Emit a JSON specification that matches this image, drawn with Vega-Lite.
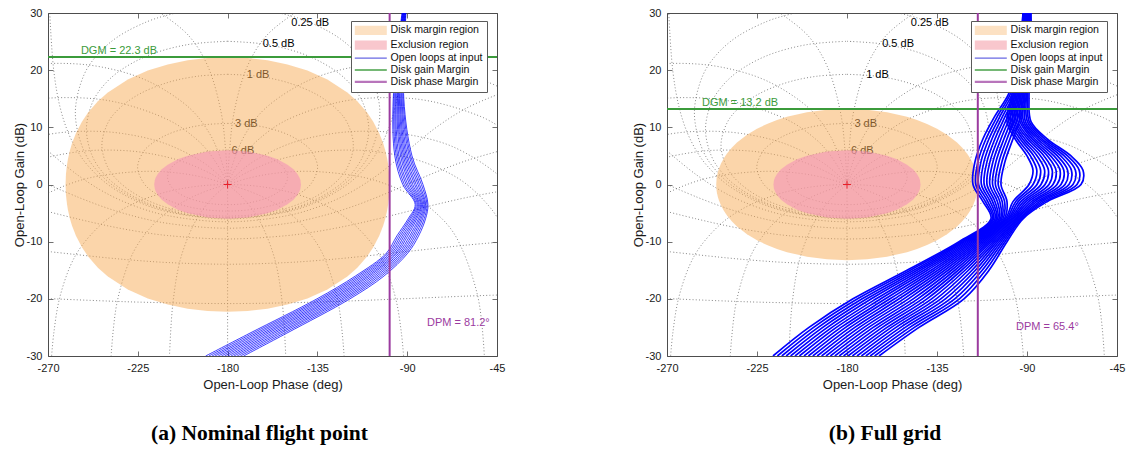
{
"$schema":"https://vega.github.io/schema/vega-lite/v6.json",
"background":"white",
"padding":{"left":12,"top":6,"right":5,"bottom":5},
"spacing":170,
"bounds":"flush",
"config":{
 "view":{"stroke":"#4d4d4d","strokeWidth":1},
 "axis":{"domain":false,"grid":false,"ticks":true,"tickSize":-5,"tickColor":"#4d4d4d","tickWidth":0.8,"labelFont":"Liberation Sans","labelFontSize":11,"labelColor":"#1a1a1a","titleFont":"Liberation Sans","titleFontSize":13,"titleFontWeight":"normal","titleColor":"#1a1a1a","labelFlush":false,"labelOverlap":false,"labelBound":false},
 "axisBottom":{"labelPadding":11,"titlePadding":5},
 "axisLeft":{"labelPadding":11,"titlePadding":0},
 "legend":{"orient":"none","title":null,"fillColor":"#ffffff","strokeColor":"#5a5a5a","padding":4,"rowPadding":0.9,"labelFont":"Liberation Sans","labelFontSize":10.6,"labelColor":"#111111","symbolSize":64,"symbolStrokeWidth":1.2,"symbolOffset":10.5,"labelOffset":14.5}
},
"datasets":{
"grid":[
{"g":1,"i":0,"x":-180,"y":6.04},{"g":1,"i":1,"x":-170,"y":5.77},{"g":1,"i":2,"x":-160,"y":4.83},{"g":1,"i":3,"x":-155,"y":3.92},{"g":1,"i":4,"x":-152,"y":3.01},{"g":1,"i":5,"x":-149.9,"y":1.26},{"g":1,"i":6,"x":-152,"y":-0.49},{"g":1,"i":7,"x":-155,"y":-1.41},{"g":1,"i":8,"x":-160,"y":-2.32},{"g":1,"i":9,"x":-170,"y":-3.26},{"g":1,"i":10,"x":-180,"y":-3.53},{"g":1,"i":11,"x":-190,"y":-3.26},{"g":1,"i":12,"x":-200,"y":-2.32},{"g":1,"i":13,"x":-205,"y":-1.41},{"g":1,"i":14,"x":-208,"y":-0.49},{"g":1,"i":15,"x":-210.1,"y":1.26},{"g":1,"i":16,"x":-208,"y":3.01},{"g":1,"i":17,"x":-205,"y":3.92},{"g":1,"i":18,"x":-200,"y":4.83},{"g":1,"i":19,"x":-190,"y":5.77},{"g":1,"i":20,"x":-180,"y":6.04},
{"g":2,"i":0,"x":-180,"y":10.69},{"g":2,"i":1,"x":-170,"y":10.5},{"g":2,"i":2,"x":-160,"y":9.9},{"g":2,"i":3,"x":-150,"y":8.76},{"g":2,"i":4,"x":-142,"y":7.16},{"g":2,"i":5,"x":-138,"y":5.82},{"g":2,"i":6,"x":-134.9,"y":3.02},{"g":2,"i":7,"x":-138,"y":0.22},{"g":2,"i":8,"x":-142,"y":-1.12},{"g":2,"i":9,"x":-150,"y":-2.72},{"g":2,"i":10,"x":-160,"y":-3.86},{"g":2,"i":11,"x":-170,"y":-4.46},{"g":2,"i":12,"x":-180,"y":-4.65},{"g":2,"i":13,"x":-190,"y":-4.46},{"g":2,"i":14,"x":-200,"y":-3.86},{"g":2,"i":15,"x":-210,"y":-2.72},{"g":2,"i":16,"x":-218,"y":-1.12},{"g":2,"i":17,"x":-222,"y":0.22},{"g":2,"i":18,"x":-225.1,"y":3.02},{"g":2,"i":19,"x":-222,"y":5.82},{"g":2,"i":20,"x":-218,"y":7.16},{"g":2,"i":21,"x":-210,"y":8.76},{"g":2,"i":22,"x":-200,"y":9.9},{"g":2,"i":23,"x":-190,"y":10.5},{"g":2,"i":24,"x":-180,"y":10.69},
{"g":3,"i":0,"x":-180,"y":19.27},{"g":3,"i":1,"x":-165,"y":18.94},{"g":3,"i":2,"x":-150,"y":17.84},{"g":3,"i":3,"x":-135,"y":15.67},{"g":3,"i":4,"x":-125,"y":13.06},{"g":3,"i":5,"x":-120,"y":10.77},{"g":3,"i":6,"x":-117,"y":6.88},{"g":3,"i":7,"x":-120,"y":2.97},{"g":3,"i":8,"x":-125,"y":0.68},{"g":3,"i":9,"x":-135,"y":-1.94},{"g":3,"i":10,"x":-150,"y":-4.1},{"g":3,"i":11,"x":-165,"y":-5.2},{"g":3,"i":12,"x":-180,"y":-5.53},{"g":3,"i":13,"x":-195,"y":-5.2},{"g":3,"i":14,"x":-210,"y":-4.1},{"g":3,"i":15,"x":-225,"y":-1.94},{"g":3,"i":16,"x":-235,"y":0.68},{"g":3,"i":17,"x":-240,"y":2.97},{"g":3,"i":18,"x":-243,"y":6.88},{"g":3,"i":19,"x":-240,"y":10.77},{"g":3,"i":20,"x":-235,"y":13.06},{"g":3,"i":21,"x":-225,"y":15.67},{"g":3,"i":22,"x":-210,"y":17.84},{"g":3,"i":23,"x":-195,"y":18.94},{"g":3,"i":24,"x":-180,"y":19.27},
{"g":4,"i":0,"x":-180,"y":25.05},{"g":4,"i":1,"x":-160,"y":24.47},{"g":4,"i":2,"x":-140,"y":22.54},{"g":4,"i":3,"x":-125,"y":19.64},{"g":4,"i":4,"x":-117,"y":16.96},{"g":4,"i":5,"x":-112,"y":14.12},{"g":4,"i":6,"x":-109.25,"y":9.63},{"g":4,"i":7,"x":-112,"y":5.15},{"g":4,"i":8,"x":-117,"y":2.29},{"g":4,"i":9,"x":-125,"y":-0.36},{"g":4,"i":10,"x":-140,"y":-3.27},{"g":4,"i":11,"x":-160,"y":-5.21},{"g":4,"i":12,"x":-180,"y":-5.78},{"g":4,"i":13,"x":-200,"y":-5.21},{"g":4,"i":14,"x":-220,"y":-3.27},{"g":4,"i":15,"x":-235,"y":-0.36},{"g":4,"i":16,"x":-243,"y":2.29},{"g":4,"i":17,"x":-248,"y":5.15},{"g":4,"i":18,"x":-250.75,"y":9.63},{"g":4,"i":19,"x":-248,"y":14.12},{"g":4,"i":20,"x":-243,"y":16.96},{"g":4,"i":21,"x":-235,"y":19.64},{"g":4,"i":22,"x":-220,"y":22.54},{"g":4,"i":23,"x":-200,"y":24.47},{"g":4,"i":24,"x":-180,"y":25.05},
{"g":5,"i":0,"x":-180,"y":30.94},{"g":5,"i":1,"x":-160,"y":30.38},{"g":5,"i":2,"x":-150,"y":29.64},{"g":5,"i":3,"x":-140,"y":28.53},{"g":5,"i":4,"x":-125,"y":25.84},{"g":5,"i":5,"x":-115,"y":22.8},{"g":5,"i":6,"x":-108,"y":19.15},{"g":5,"i":7,"x":-103.7,"y":12.52},{"g":5,"i":8,"x":-108,"y":5.9},{"g":5,"i":9,"x":-115,"y":2.25},{"g":5,"i":10,"x":-125,"y":-0.8},{"g":5,"i":11,"x":-140,"y":-3.51},{"g":5,"i":12,"x":-150,"y":-4.6},{"g":5,"i":13,"x":-160,"y":-5.33},{"g":5,"i":14,"x":-180,"y":-5.89},{"g":5,"i":15,"x":-200,"y":-5.33},{"g":5,"i":16,"x":-210,"y":-4.6},{"g":5,"i":17,"x":-220,"y":-3.51},{"g":5,"i":18,"x":-235,"y":-0.8},{"g":5,"i":19,"x":-245,"y":2.25},{"g":5,"i":20,"x":-252,"y":5.9},{"g":5,"i":21,"x":-256.3,"y":12.52},{"g":5,"i":22,"x":-252,"y":19.15},{"g":5,"i":23,"x":-245,"y":22.8},{"g":5,"i":24,"x":-235,"y":25.84},{"g":5,"i":25,"x":-220,"y":28.53},{"g":5,"i":26,"x":-210,"y":29.64},{"g":5,"i":27,"x":-200,"y":30.38},{"g":5,"i":28,"x":-180,"y":30.94},
{"g":6,"i":0,"x":-90.8,"y":31.1},{"g":6,"i":1,"x":-91,"y":29.14},{"g":6,"i":2,"x":-93,"y":19.6},{"g":6,"i":3,"x":-96,"y":13.59},{"g":6,"i":4,"x":-100,"y":9.18},{"g":6,"i":5,"x":-105,"y":5.72},{"g":6,"i":6,"x":-110,"y":3.3},{"g":6,"i":7,"x":-120,"y":0},{"g":6,"i":8,"x":-135,"y":-3.01},{"g":6,"i":9,"x":-150,"y":-4.77},{"g":6,"i":10,"x":-180,"y":-6.02},{"g":6,"i":11,"x":-210,"y":-4.77},{"g":6,"i":12,"x":-225,"y":-3.01},{"g":6,"i":13,"x":-240,"y":0},{"g":6,"i":14,"x":-250,"y":3.3},{"g":6,"i":15,"x":-255,"y":5.72},{"g":6,"i":16,"x":-260,"y":9.18},{"g":6,"i":17,"x":-264,"y":13.59},{"g":6,"i":18,"x":-267,"y":19.6},{"g":6,"i":19,"x":-269,"y":29.14},{"g":6,"i":20,"x":-269.2,"y":31.1},
{"g":7,"i":0,"x":-270,"y":5.87},{"g":7,"i":1,"x":-255,"y":1.62},{"g":7,"i":2,"x":-240,"y":-1.68},{"g":7,"i":3,"x":-225,"y":-3.96},{"g":7,"i":4,"x":-210,"y":-5.44},{"g":7,"i":5,"x":-180,"y":-6.53},{"g":7,"i":6,"x":-150,"y":-5.44},{"g":7,"i":7,"x":-135,"y":-3.96},{"g":7,"i":8,"x":-120,"y":-1.68},{"g":7,"i":9,"x":-105,"y":1.62},{"g":7,"i":10,"x":-90,"y":5.87},{"g":7,"i":11,"x":-75,"y":10.11},{"g":7,"i":12,"x":-60,"y":13.42},{"g":7,"i":13,"x":-45,"y":15.7},
{"g":8,"i":0,"x":-270,"y":0.02},{"g":8,"i":1,"x":-255,"y":-2.21},{"g":8,"i":2,"x":-240,"y":-4.17},{"g":8,"i":3,"x":-225,"y":-5.71},{"g":8,"i":4,"x":-210,"y":-6.8},{"g":8,"i":5,"x":-180,"y":-7.65},{"g":8,"i":6,"x":-150,"y":-6.8},{"g":8,"i":7,"x":-135,"y":-5.71},{"g":8,"i":8,"x":-120,"y":-4.17},{"g":8,"i":9,"x":-105,"y":-2.21},{"g":8,"i":10,"x":-90,"y":0.02},{"g":8,"i":11,"x":-75,"y":2.25},{"g":8,"i":12,"x":-60,"y":4.21},{"g":8,"i":13,"x":-45,"y":5.75},
{"g":9,"i":0,"x":-270,"y":-4.74},{"g":9,"i":1,"x":-255,"y":-6.04},{"g":9,"i":2,"x":-240,"y":-7.23},{"g":9,"i":3,"x":-225,"y":-8.21},{"g":9,"i":4,"x":-210,"y":-8.93},{"g":9,"i":5,"x":-180,"y":-9.53},{"g":9,"i":6,"x":-150,"y":-8.93},{"g":9,"i":7,"x":-135,"y":-8.21},{"g":9,"i":8,"x":-120,"y":-7.23},{"g":9,"i":9,"x":-105,"y":-6.04},{"g":9,"i":10,"x":-90,"y":-4.74},{"g":9,"i":11,"x":-75,"y":-3.45},{"g":9,"i":12,"x":-60,"y":-2.26},{"g":9,"i":13,"x":-45,"y":-1.28},
{"g":10,"i":0,"x":-270,"y":-11.72},{"g":10,"i":1,"x":-240,"y":-12.84},{"g":10,"i":2,"x":-225,"y":-13.3},{"g":10,"i":3,"x":-210,"y":-13.65},{"g":10,"i":4,"x":-180,"y":-13.95},{"g":10,"i":5,"x":-150,"y":-13.65},{"g":10,"i":6,"x":-135,"y":-13.3},{"g":10,"i":7,"x":-120,"y":-12.84},{"g":10,"i":8,"x":-90,"y":-11.72},{"g":10,"i":9,"x":-60,"y":-10.59},{"g":10,"i":10,"x":-45,"y":-10.13},
{"g":11,"i":0,"x":-270,"y":-19.96},{"g":11,"i":1,"x":-240,"y":-20.39},{"g":11,"i":2,"x":-225,"y":-20.57},{"g":11,"i":3,"x":-180,"y":-20.83},{"g":11,"i":4,"x":-135,"y":-20.57},{"g":11,"i":5,"x":-120,"y":-20.39},{"g":11,"i":6,"x":-90,"y":-19.96},{"g":11,"i":7,"x":-60,"y":-19.52},{"g":11,"i":8,"x":-45,"y":-19.34},
{"g":12,"i":0,"x":-91.7,"y":-30.5},{"g":12,"i":1,"x":-92.9,"y":-26},{"g":12,"i":2,"x":-95.7,"y":-20.04},{"g":12,"i":3,"x":-101.3,"y":-14.15},{"g":12,"i":4,"x":-106.7,"y":-10.83},{"g":12,"i":5,"x":-116.6,"y":-6.99},{"g":12,"i":6,"x":-125,"y":-4.83},{"g":12,"i":7,"x":-135,"y":-3.01},{"g":12,"i":8,"x":-146.3,"y":-1.6},{"g":12,"i":9,"x":-153.4,"y":-0.97},{"g":12,"i":10,"x":-161.6,"y":-0.46},{"g":12,"i":11,"x":-170.5,"y":-0.12},{"g":12,"i":12,"x":-180,"y":0},
{"g":13,"i":0,"x":-268.3,"y":-30.5},{"g":13,"i":1,"x":-267.1,"y":-26},{"g":13,"i":2,"x":-264.3,"y":-20.04},{"g":13,"i":3,"x":-258.7,"y":-14.15},{"g":13,"i":4,"x":-253.3,"y":-10.83},{"g":13,"i":5,"x":-243.4,"y":-6.99},{"g":13,"i":6,"x":-235,"y":-4.83},{"g":13,"i":7,"x":-225,"y":-3.01},{"g":13,"i":8,"x":-213.7,"y":-1.6},{"g":13,"i":9,"x":-206.6,"y":-0.97},{"g":13,"i":10,"x":-198.4,"y":-0.46},{"g":13,"i":11,"x":-189.5,"y":-0.12},{"g":13,"i":12,"x":-180,"y":0},
{"g":14,"i":0,"x":-121.5,"y":-30.6},{"g":14,"i":1,"x":-124.7,"y":-20.45},{"g":14,"i":2,"x":-132.7,"y":-11.89},{"g":14,"i":3,"x":-141.8,"y":-7.36},{"g":14,"i":4,"x":-150,"y":-4.77},{"g":14,"i":5,"x":-160.9,"y":-2.43},{"g":14,"i":6,"x":-169.1,"y":-1.18},{"g":14,"i":7,"x":-175.3,"y":-0.45},{"g":14,"i":8,"x":-180,"y":0},
{"g":15,"i":0,"x":-238.5,"y":-30.6},{"g":15,"i":1,"x":-235.3,"y":-20.45},{"g":15,"i":2,"x":-227.3,"y":-11.89},{"g":15,"i":3,"x":-218.2,"y":-7.36},{"g":15,"i":4,"x":-210,"y":-4.77},{"g":15,"i":5,"x":-199.1,"y":-2.43},{"g":15,"i":6,"x":-190.9,"y":-1.18},{"g":15,"i":7,"x":-184.7,"y":-0.45},{"g":15,"i":8,"x":-180,"y":0},
{"g":16,"i":0,"x":-150.8,"y":-30.7},{"g":16,"i":1,"x":-152.6,"y":-20.73},{"g":16,"i":2,"x":-156.8,"y":-12.52},{"g":16,"i":3,"x":-165,"y":-5.72},{"g":16,"i":4,"x":-172.6,"y":-2.27},{"g":16,"i":5,"x":-177.4,"y":-0.73},{"g":16,"i":6,"x":-180,"y":0},
{"g":17,"i":0,"x":-209.2,"y":-30.7},{"g":17,"i":1,"x":-207.4,"y":-20.73},{"g":17,"i":2,"x":-203.2,"y":-12.52},{"g":17,"i":3,"x":-195,"y":-5.72},{"g":17,"i":4,"x":-187.4,"y":-2.27},{"g":17,"i":5,"x":-182.6,"y":-0.73},{"g":17,"i":6,"x":-180,"y":0},
{"g":18,"i":0,"x":-180,"y":-31},{"g":18,"i":1,"x":-180,"y":0},
{"g":19,"i":0,"x":-51.3,"y":-30.29},{"g":19,"i":1,"x":-54.7,"y":-19.45},{"g":19,"i":2,"x":-65.9,"y":-8.94},{"g":19,"i":3,"x":-75.9,"y":-4.89},{"g":19,"i":4,"x":-86.8,"y":-2.13},{"g":19,"i":5,"x":-101.6,"y":0.2},{"g":19,"i":6,"x":-115,"y":1.46},{"g":19,"i":7,"x":-140,"y":2.31},{"g":19,"i":8,"x":-157.6,"y":1.9},{"g":19,"i":9,"x":-170,"y":1.06},{"g":19,"i":10,"x":-180,"y":0},
{"g":20,"i":0,"x":-308.7,"y":-30.29},{"g":20,"i":1,"x":-305.3,"y":-19.45},{"g":20,"i":2,"x":-294.1,"y":-8.94},{"g":20,"i":3,"x":-284.1,"y":-4.89},{"g":20,"i":4,"x":-273.2,"y":-2.13},{"g":20,"i":5,"x":-258.4,"y":0.2},{"g":20,"i":6,"x":-245,"y":1.46},{"g":20,"i":7,"x":-220,"y":2.31},{"g":20,"i":8,"x":-202.4,"y":1.9},{"g":20,"i":9,"x":-190,"y":1.06},{"g":20,"i":10,"x":-180,"y":0},
{"g":21,"i":0,"x":-41.5,"y":-8.02},{"g":21,"i":1,"x":-47,"y":-4.66},{"g":21,"i":2,"x":-62,"y":0.5},{"g":21,"i":3,"x":-82.5,"y":4.01},{"g":21,"i":4,"x":-105,"y":5.72},{"g":21,"i":5,"x":-120,"y":6.02},{"g":21,"i":6,"x":-136.9,"y":5.64},{"g":21,"i":7,"x":-156.2,"y":4.16},{"g":21,"i":8,"x":-170.9,"y":2.01},{"g":21,"i":9,"x":-176.9,"y":0.78},{"g":21,"i":10,"x":-180,"y":0},
{"g":22,"i":0,"x":-318.5,"y":-8.02},{"g":22,"i":1,"x":-313,"y":-4.66},{"g":22,"i":2,"x":-298,"y":0.5},{"g":22,"i":3,"x":-277.5,"y":4.01},{"g":22,"i":4,"x":-255,"y":5.72},{"g":22,"i":5,"x":-240,"y":6.02},{"g":22,"i":6,"x":-223.1,"y":5.64},{"g":22,"i":7,"x":-203.8,"y":4.16},{"g":22,"i":8,"x":-189.1,"y":2.01},{"g":22,"i":9,"x":-183.1,"y":0.78},{"g":22,"i":10,"x":-180,"y":0},
{"g":23,"i":0,"x":-37.9,"y":-0.93},{"g":23,"i":1,"x":-45.2,"y":1.9},{"g":23,"i":2,"x":-67.8,"y":6.71},{"g":23,"i":3,"x":-91.7,"y":8.85},{"g":23,"i":4,"x":-110,"y":9.32},{"g":23,"i":5,"x":-127.3,"y":8.92},{"g":23,"i":6,"x":-148.6,"y":7.18},{"g":23,"i":7,"x":-167.6,"y":3.89},{"g":23,"i":8,"x":-176.1,"y":1.46},{"g":23,"i":9,"x":-180,"y":0},
{"g":24,"i":0,"x":-322.1,"y":-0.93},{"g":24,"i":1,"x":-314.8,"y":1.9},{"g":24,"i":2,"x":-292.2,"y":6.71},{"g":24,"i":3,"x":-268.3,"y":8.85},{"g":24,"i":4,"x":-250,"y":9.32},{"g":24,"i":5,"x":-232.7,"y":8.92},{"g":24,"i":6,"x":-211.4,"y":7.18},{"g":24,"i":7,"x":-192.4,"y":3.89},{"g":24,"i":8,"x":-183.9,"y":1.46},{"g":24,"i":9,"x":-180,"y":0},
{"g":25,"i":0,"x":-43.2,"y":9.98},{"g":25,"i":1,"x":-52.2,"y":11.75},{"g":25,"i":2,"x":-78.7,"y":14.59},{"g":25,"i":3,"x":-100,"y":15.2},{"g":25,"i":4,"x":-123.6,"y":14.45},{"g":25,"i":5,"x":-151.1,"y":11.15},{"g":25,"i":6,"x":-164.2,"y":7.97},{"g":25,"i":7,"x":-170.3,"y":5.76},{"g":25,"i":8,"x":-177.5,"y":1.9},{"g":25,"i":9,"x":-180,"y":0},
{"g":26,"i":0,"x":-316.8,"y":9.98},{"g":26,"i":1,"x":-307.8,"y":11.75},{"g":26,"i":2,"x":-281.3,"y":14.59},{"g":26,"i":3,"x":-260,"y":15.2},{"g":26,"i":4,"x":-236.4,"y":14.45},{"g":26,"i":5,"x":-208.9,"y":11.15},{"g":26,"i":6,"x":-195.8,"y":7.97},{"g":26,"i":7,"x":-189.7,"y":5.76},{"g":26,"i":8,"x":-182.5,"y":1.9},{"g":26,"i":9,"x":-180,"y":0},
{"g":27,"i":0,"x":-42.2,"y":16.73},{"g":27,"i":1,"x":-48.8,"y":17.8},{"g":27,"i":2,"x":-73.3,"y":20.55},{"g":27,"i":3,"x":-95,"y":21.19},{"g":27,"i":4,"x":-116.7,"y":20.56},{"g":27,"i":5,"x":-140,"y":18.11},{"g":27,"i":6,"x":-161,"y":13.35},{"g":27,"i":7,"x":-170.2,"y":9.35},{"g":27,"i":8,"x":-175,"y":5.96},{"g":27,"i":9,"x":-178.8,"y":1.93},{"g":27,"i":10,"x":-180,"y":0},
{"g":28,"i":0,"x":-317.8,"y":16.73},{"g":28,"i":1,"x":-311.2,"y":17.8},{"g":28,"i":2,"x":-286.7,"y":20.55},{"g":28,"i":3,"x":-265,"y":21.19},{"g":28,"i":4,"x":-243.3,"y":20.56},{"g":28,"i":5,"x":-220,"y":18.11},{"g":28,"i":6,"x":-199,"y":13.35},{"g":28,"i":7,"x":-189.8,"y":9.35},{"g":28,"i":8,"x":-185,"y":5.96},{"g":28,"i":9,"x":-181.2,"y":1.93},{"g":28,"i":10,"x":-180,"y":0},
{"g":29,"i":0,"x":-139.1,"y":31.65},{"g":29,"i":1,"x":-146.5,"y":30},{"g":29,"i":2,"x":-160.8,"y":25.92},{"g":29,"i":3,"x":-170.1,"y":20.68},{"g":29,"i":4,"x":-176.7,"y":12.72},{"g":29,"i":5,"x":-179,"y":6.02},{"g":29,"i":6,"x":-180,"y":0},
{"g":30,"i":0,"x":-220.9,"y":31.65},{"g":30,"i":1,"x":-213.5,"y":30},{"g":30,"i":2,"x":-199.2,"y":25.92},{"g":30,"i":3,"x":-189.9,"y":20.68},{"g":30,"i":4,"x":-183.3,"y":12.72},{"g":30,"i":5,"x":-181,"y":6.02},{"g":30,"i":6,"x":-180,"y":0}
],
"glab":[{"t":"0.25 dB","x":-148.1,"y":28.3},{"t":"0.5 dB","x":-162.4,"y":24.6},{"t":"1 dB","x":-170.4,"y":19.15},{"t":"3 dB","x":-176.3,"y":10.5},{"t":"6 dB","x":-178,"y":5.85}],
"dma":[{"x":-261.2,"y":0,"y2":0},{"x":-261,"y":1.83,"y2":-1.83},{"x":-260.5,"y":3.42,"y2":-3.42},{"x":-260,"y":4.46,"y2":-4.46},{"x":-259,"y":5.99,"y2":-5.99},{"x":-258,"y":7.16,"y2":-7.16},{"x":-256,"y":8.96,"y2":-8.96},{"x":-253,"y":10.98,"y2":-10.98},{"x":-250,"y":12.54,"y2":-12.54},{"x":-245,"y":14.55,"y2":-14.55},{"x":-240,"y":16.1,"y2":-16.1},{"x":-230,"y":18.36,"y2":-18.36},{"x":-220,"y":19.92,"y2":-19.92},{"x":-210,"y":21.01,"y2":-21.01},{"x":-200,"y":21.73,"y2":-21.73},{"x":-190,"y":22.14,"y2":-22.14},{"x":-180,"y":22.28,"y2":-22.28},{"x":-170,"y":22.14,"y2":-22.14},{"x":-160,"y":21.73,"y2":-21.73},{"x":-150,"y":21.01,"y2":-21.01},{"x":-140,"y":19.92,"y2":-19.92},{"x":-130,"y":18.36,"y2":-18.36},{"x":-120,"y":16.1,"y2":-16.1},{"x":-115,"y":14.55,"y2":-14.55},{"x":-110,"y":12.54,"y2":-12.54},{"x":-107,"y":10.98,"y2":-10.98},{"x":-104,"y":8.96,"y2":-8.96},{"x":-102,"y":7.16,"y2":-7.16},{"x":-101,"y":5.99,"y2":-5.99},{"x":-100,"y":4.46,"y2":-4.46},{"x":-99.5,"y":3.42,"y2":-3.42},{"x":-99,"y":1.83,"y2":-1.83},{"x":-98.8,"y":0,"y2":0}],
"dmb":[{"x":-245.4,"y":0,"y2":0},{"x":-245.2,"y":1.08,"y2":-1.08},{"x":-245,"y":1.51,"y2":-1.51},{"x":-244.5,"y":2.26,"y2":-2.26},{"x":-244,"y":2.82,"y2":-2.82},{"x":-243,"y":3.67,"y2":-3.67},{"x":-241.5,"y":4.64,"y2":-4.64},{"x":-240,"y":5.42,"y2":-5.42},{"x":-237.5,"y":6.47,"y2":-6.47},{"x":-235,"y":7.33,"y2":-7.33},{"x":-230,"y":8.69,"y2":-8.69},{"x":-225,"y":9.75,"y2":-9.75},{"x":-220,"y":10.59,"y2":-10.59},{"x":-215,"y":11.28,"y2":-11.28},{"x":-210,"y":11.83,"y2":-11.83},{"x":-200,"y":12.63,"y2":-12.63},{"x":-190,"y":13.08,"y2":-13.08},{"x":-180,"y":13.23,"y2":-13.23},{"x":-170,"y":13.08,"y2":-13.08},{"x":-160,"y":12.63,"y2":-12.63},{"x":-150,"y":11.83,"y2":-11.83},{"x":-145,"y":11.28,"y2":-11.28},{"x":-140,"y":10.59,"y2":-10.59},{"x":-135,"y":9.75,"y2":-9.75},{"x":-130,"y":8.69,"y2":-8.69},{"x":-125,"y":7.33,"y2":-7.33},{"x":-122.5,"y":6.47,"y2":-6.47},{"x":-120,"y":5.42,"y2":-5.42},{"x":-118.5,"y":4.64,"y2":-4.64},{"x":-117,"y":3.67,"y2":-3.67},{"x":-116,"y":2.82,"y2":-2.82},{"x":-115.5,"y":2.26,"y2":-2.26},{"x":-115,"y":1.51,"y2":-1.51},{"x":-114.8,"y":1.08,"y2":-1.08},{"x":-114.6,"y":0,"y2":0}],
"exr":[{"x":-216.77,"y":0,"y2":0},{"x":-216.5,"y":0.73,"y2":-0.73},{"x":-216,"y":1.22,"y2":-1.22},{"x":-215,"y":1.84,"y2":-1.84},{"x":-213,"y":2.65,"y2":-2.65},{"x":-210,"y":3.47,"y2":-3.47},{"x":-205,"y":4.4,"y2":-4.4},{"x":-200,"y":5.04,"y2":-5.04},{"x":-190,"y":5.78,"y2":-5.78},{"x":-180,"y":6,"y2":-6},{"x":-170,"y":5.78,"y2":-5.78},{"x":-160,"y":5.04,"y2":-5.04},{"x":-155,"y":4.4,"y2":-4.4},{"x":-150,"y":3.47,"y2":-3.47},{"x":-147,"y":2.65,"y2":-2.65},{"x":-145,"y":1.84,"y2":-1.84},{"x":-144,"y":1.22,"y2":-1.22},{"x":-143.5,"y":0.73,"y2":-0.73},{"x":-143.23,"y":0,"y2":0}],
"bla":[
{"c":0,"i":0,"x":-92.6,"y":30},{"c":0,"i":1,"x":-97,"y":15},{"c":0,"i":2,"x":-96.2,"y":5},{"c":0,"i":3,"x":-92.2,"y":0},{"c":0,"i":4,"x":-86,"y":-3.5},{"c":0,"i":5,"x":-89.5,"y":-6},{"c":0,"i":6,"x":-95.2,"y":-9},{"c":0,"i":7,"x":-100.4,"y":-12},{"c":0,"i":8,"x":-115.9,"y":-16},{"c":0,"i":9,"x":-135.2,"y":-20},{"c":0,"i":10,"x":-168.8,"y":-26},{"c":0,"i":11,"x":-191,"y":-30},
{"c":1,"i":0,"x":-92.4,"y":30},{"c":1,"i":1,"x":-96.6,"y":15},{"c":1,"i":2,"x":-95.5,"y":5},{"c":1,"i":3,"x":-91.4,"y":0},{"c":1,"i":4,"x":-85.5,"y":-3.5},{"c":1,"i":5,"x":-88.8,"y":-6},{"c":1,"i":6,"x":-94.3,"y":-9},{"c":1,"i":7,"x":-99.5,"y":-12},{"c":1,"i":8,"x":-114.7,"y":-16},{"c":1,"i":9,"x":-133.8,"y":-20},{"c":1,"i":10,"x":-167.3,"y":-26},{"c":1,"i":11,"x":-189.4,"y":-30},
{"c":2,"i":0,"x":-92.3,"y":30},{"c":2,"i":1,"x":-96.1,"y":15},{"c":2,"i":2,"x":-94.8,"y":5},{"c":2,"i":3,"x":-90.5,"y":0},{"c":2,"i":4,"x":-84.9,"y":-3.5},{"c":2,"i":5,"x":-88.1,"y":-6},{"c":2,"i":6,"x":-93.4,"y":-9},{"c":2,"i":7,"x":-98.6,"y":-12},{"c":2,"i":8,"x":-113.5,"y":-16},{"c":2,"i":9,"x":-132.5,"y":-20},{"c":2,"i":10,"x":-165.7,"y":-26},{"c":2,"i":11,"x":-187.8,"y":-30},
{"c":3,"i":0,"x":-92.1,"y":30},{"c":3,"i":1,"x":-95.7,"y":15},{"c":3,"i":2,"x":-94.1,"y":5},{"c":3,"i":3,"x":-89.7,"y":0},{"c":3,"i":4,"x":-84.4,"y":-3.5},{"c":3,"i":5,"x":-87.3,"y":-6},{"c":3,"i":6,"x":-92.5,"y":-9},{"c":3,"i":7,"x":-97.7,"y":-12},{"c":3,"i":8,"x":-112.3,"y":-16},{"c":3,"i":9,"x":-131.1,"y":-20},{"c":3,"i":10,"x":-164.2,"y":-26},{"c":3,"i":11,"x":-186.3,"y":-30},
{"c":4,"i":0,"x":-91.9,"y":30},{"c":4,"i":1,"x":-95.2,"y":15},{"c":4,"i":2,"x":-93.3,"y":5},{"c":4,"i":3,"x":-88.8,"y":0},{"c":4,"i":4,"x":-83.9,"y":-3.5},{"c":4,"i":5,"x":-86.6,"y":-6},{"c":4,"i":6,"x":-91.6,"y":-9},{"c":4,"i":7,"x":-96.8,"y":-12},{"c":4,"i":8,"x":-111.1,"y":-16},{"c":4,"i":9,"x":-129.7,"y":-20},{"c":4,"i":10,"x":-162.6,"y":-26},{"c":4,"i":11,"x":-184.7,"y":-30},
{"c":5,"i":0,"x":-91.8,"y":30},{"c":5,"i":1,"x":-94.8,"y":15},{"c":5,"i":2,"x":-92.6,"y":5},{"c":5,"i":3,"x":-88,"y":0},{"c":5,"i":4,"x":-83.3,"y":-3.5},{"c":5,"i":5,"x":-85.9,"y":-6},{"c":5,"i":6,"x":-90.7,"y":-9},{"c":5,"i":7,"x":-95.9,"y":-12},{"c":5,"i":8,"x":-109.9,"y":-16},{"c":5,"i":9,"x":-128.3,"y":-20},{"c":5,"i":10,"x":-161.1,"y":-26},{"c":5,"i":11,"x":-183.1,"y":-30},
{"c":6,"i":0,"x":-91.6,"y":30},{"c":6,"i":1,"x":-94.4,"y":15},{"c":6,"i":2,"x":-91.9,"y":5},{"c":6,"i":3,"x":-87.2,"y":0},{"c":6,"i":4,"x":-82.8,"y":-3.5},{"c":6,"i":5,"x":-85.2,"y":-6},{"c":6,"i":6,"x":-89.8,"y":-9},{"c":6,"i":7,"x":-95.1,"y":-12},{"c":6,"i":8,"x":-108.8,"y":-16},{"c":6,"i":9,"x":-127,"y":-20},{"c":6,"i":10,"x":-159.6,"y":-26},{"c":6,"i":11,"x":-181.5,"y":-30},
{"c":7,"i":0,"x":-91.4,"y":30},{"c":7,"i":1,"x":-93.9,"y":15},{"c":7,"i":2,"x":-91.2,"y":5},{"c":7,"i":3,"x":-86.3,"y":0},{"c":7,"i":4,"x":-82.3,"y":-3.5},{"c":7,"i":5,"x":-84.4,"y":-6},{"c":7,"i":6,"x":-88.8,"y":-9},{"c":7,"i":7,"x":-94.2,"y":-12},{"c":7,"i":8,"x":-107.6,"y":-16},{"c":7,"i":9,"x":-125.6,"y":-20},{"c":7,"i":10,"x":-158,"y":-26},{"c":7,"i":11,"x":-179.9,"y":-30},
{"c":8,"i":0,"x":-91.3,"y":30},{"c":8,"i":1,"x":-93.5,"y":15},{"c":8,"i":2,"x":-90.5,"y":5},{"c":8,"i":3,"x":-85.5,"y":0},{"c":8,"i":4,"x":-81.7,"y":-3.5},{"c":8,"i":5,"x":-83.7,"y":-6},{"c":8,"i":6,"x":-87.9,"y":-9},{"c":8,"i":7,"x":-93.3,"y":-12},{"c":8,"i":8,"x":-106.4,"y":-16},{"c":8,"i":9,"x":-124.2,"y":-20},{"c":8,"i":10,"x":-156.5,"y":-26},{"c":8,"i":11,"x":-178.3,"y":-30},
{"c":9,"i":0,"x":-91.1,"y":30},{"c":9,"i":1,"x":-93,"y":15},{"c":9,"i":2,"x":-89.8,"y":5},{"c":9,"i":3,"x":-84.6,"y":0},{"c":9,"i":4,"x":-81.2,"y":-3.5},{"c":9,"i":5,"x":-83,"y":-6},{"c":9,"i":6,"x":-87,"y":-9},{"c":9,"i":7,"x":-92.4,"y":-12},{"c":9,"i":8,"x":-105.2,"y":-16},{"c":9,"i":9,"x":-122.8,"y":-20},{"c":9,"i":10,"x":-154.9,"y":-26},{"c":9,"i":11,"x":-176.8,"y":-30},
{"c":10,"i":0,"x":-90.9,"y":30},{"c":10,"i":1,"x":-92.6,"y":15},{"c":10,"i":2,"x":-89,"y":5},{"c":10,"i":3,"x":-83.8,"y":0},{"c":10,"i":4,"x":-80.7,"y":-3.5},{"c":10,"i":5,"x":-82.3,"y":-6},{"c":10,"i":6,"x":-86.1,"y":-9},{"c":10,"i":7,"x":-91.5,"y":-12},{"c":10,"i":8,"x":-104,"y":-16},{"c":10,"i":9,"x":-121.5,"y":-20},{"c":10,"i":10,"x":-153.4,"y":-26},{"c":10,"i":11,"x":-175.2,"y":-30},
{"c":11,"i":0,"x":-90.8,"y":30},{"c":11,"i":1,"x":-92.1,"y":15},{"c":11,"i":2,"x":-88.3,"y":5},{"c":11,"i":3,"x":-82.9,"y":0},{"c":11,"i":4,"x":-80.1,"y":-3.5},{"c":11,"i":5,"x":-81.5,"y":-6},{"c":11,"i":6,"x":-85.2,"y":-9},{"c":11,"i":7,"x":-90.6,"y":-12},{"c":11,"i":8,"x":-102.8,"y":-16},{"c":11,"i":9,"x":-120.1,"y":-20},{"c":11,"i":10,"x":-151.8,"y":-26},{"c":11,"i":11,"x":-173.6,"y":-30},
{"c":12,"i":0,"x":-90.6,"y":30},{"c":12,"i":1,"x":-91.7,"y":15},{"c":12,"i":2,"x":-87.6,"y":5},{"c":12,"i":3,"x":-82.1,"y":0},{"c":12,"i":4,"x":-79.6,"y":-3.5},{"c":12,"i":5,"x":-80.8,"y":-6},{"c":12,"i":6,"x":-84.3,"y":-9},{"c":12,"i":7,"x":-89.7,"y":-12},{"c":12,"i":8,"x":-101.6,"y":-16},{"c":12,"i":9,"x":-118.7,"y":-20},{"c":12,"i":10,"x":-150.3,"y":-26},{"c":12,"i":11,"x":-172,"y":-30}
],
"blb":[
{"c":0,"i":0,"x":-217,"y":-30},{"c":0,"i":1,"x":-199,"y":-25},{"c":0,"i":2,"x":-177,"y":-20},{"c":0,"i":3,"x":-150,"y":-15},{"c":0,"i":4,"x":-124,"y":-10},{"c":0,"i":5,"x":-108,"y":-6},{"c":0,"i":6,"x":-112,"y":-3},{"c":0,"i":7,"x":-117,"y":0},{"c":0,"i":8,"x":-116,"y":4},{"c":0,"i":9,"x":-112,"y":8},{"c":0,"i":10,"x":-106,"y":12},{"c":0,"i":11,"x":-99,"y":16},{"c":0,"i":12,"x":-94,"y":22},{"c":0,"i":13,"x":-92,"y":30},
{"c":1,"i":0,"x":-214.8,"y":-30},{"c":1,"i":1,"x":-196.7,"y":-25},{"c":1,"i":2,"x":-174.7,"y":-20},{"c":1,"i":3,"x":-148.3,"y":-15},{"c":1,"i":4,"x":-123,"y":-10},{"c":1,"i":5,"x":-107.3,"y":-6},{"c":1,"i":6,"x":-110.8,"y":-3},{"c":1,"i":7,"x":-115.6,"y":0},{"c":1,"i":8,"x":-114.5,"y":4},{"c":1,"i":9,"x":-110.5,"y":8},{"c":1,"i":10,"x":-104.7,"y":12},{"c":1,"i":11,"x":-98.1,"y":16},{"c":1,"i":12,"x":-93.5,"y":22},{"c":1,"i":13,"x":-91.7,"y":30},
{"c":2,"i":0,"x":-212.6,"y":-30},{"c":2,"i":1,"x":-194.4,"y":-25},{"c":2,"i":2,"x":-172.4,"y":-20},{"c":2,"i":3,"x":-146.6,"y":-15},{"c":2,"i":4,"x":-122,"y":-10},{"c":2,"i":5,"x":-106.7,"y":-6},{"c":2,"i":6,"x":-109.6,"y":-3},{"c":2,"i":7,"x":-114.2,"y":0},{"c":2,"i":8,"x":-113,"y":4},{"c":2,"i":9,"x":-109,"y":8},{"c":2,"i":10,"x":-103.4,"y":12},{"c":2,"i":11,"x":-97.2,"y":16},{"c":2,"i":12,"x":-92.9,"y":22},{"c":2,"i":13,"x":-91.3,"y":30},
{"c":3,"i":0,"x":-210.4,"y":-30},{"c":3,"i":1,"x":-192.1,"y":-25},{"c":3,"i":2,"x":-170.1,"y":-20},{"c":3,"i":3,"x":-144.9,"y":-15},{"c":3,"i":4,"x":-121,"y":-10},{"c":3,"i":5,"x":-106,"y":-6},{"c":3,"i":6,"x":-108.4,"y":-3},{"c":3,"i":7,"x":-112.8,"y":0},{"c":3,"i":8,"x":-111.5,"y":4},{"c":3,"i":9,"x":-107.5,"y":8},{"c":3,"i":10,"x":-102.1,"y":12},{"c":3,"i":11,"x":-96.3,"y":16},{"c":3,"i":12,"x":-92.4,"y":22},{"c":3,"i":13,"x":-91,"y":30},
{"c":4,"i":0,"x":-208.2,"y":-30},{"c":4,"i":1,"x":-189.8,"y":-25},{"c":4,"i":2,"x":-167.8,"y":-20},{"c":4,"i":3,"x":-143.2,"y":-15},{"c":4,"i":4,"x":-120,"y":-10},{"c":4,"i":5,"x":-105.3,"y":-6},{"c":4,"i":6,"x":-107.2,"y":-3},{"c":4,"i":7,"x":-111.4,"y":0},{"c":4,"i":8,"x":-110,"y":4},{"c":4,"i":9,"x":-106,"y":8},{"c":4,"i":10,"x":-100.8,"y":12},{"c":4,"i":11,"x":-95.4,"y":16},{"c":4,"i":12,"x":-91.8,"y":22},{"c":4,"i":13,"x":-90.6,"y":30},
{"c":5,"i":0,"x":-206,"y":-30},{"c":5,"i":1,"x":-187.5,"y":-25},{"c":5,"i":2,"x":-165.4,"y":-20},{"c":5,"i":3,"x":-141.5,"y":-15},{"c":5,"i":4,"x":-119,"y":-10},{"c":5,"i":5,"x":-104.7,"y":-6},{"c":5,"i":6,"x":-106,"y":-3},{"c":5,"i":7,"x":-110,"y":0},{"c":5,"i":8,"x":-108.5,"y":4},{"c":5,"i":9,"x":-104.5,"y":8},{"c":5,"i":10,"x":-99.5,"y":12},{"c":5,"i":11,"x":-94.5,"y":16},{"c":5,"i":12,"x":-91.3,"y":22},{"c":5,"i":13,"x":-90.3,"y":30},
{"c":6,"i":0,"x":-203.8,"y":-30},{"c":6,"i":1,"x":-185.3,"y":-25},{"c":6,"i":2,"x":-163.1,"y":-20},{"c":6,"i":3,"x":-139.8,"y":-15},{"c":6,"i":4,"x":-118,"y":-10},{"c":6,"i":5,"x":-104,"y":-6},{"c":6,"i":6,"x":-104.8,"y":-3},{"c":6,"i":7,"x":-108.6,"y":0},{"c":6,"i":8,"x":-107,"y":4},{"c":6,"i":9,"x":-103,"y":8},{"c":6,"i":10,"x":-98.2,"y":12},{"c":6,"i":11,"x":-93.6,"y":16},{"c":6,"i":12,"x":-90.7,"y":22},{"c":6,"i":13,"x":-89.9,"y":30},
{"c":7,"i":0,"x":-201.5,"y":-30},{"c":7,"i":1,"x":-183,"y":-25},{"c":7,"i":2,"x":-160.8,"y":-20},{"c":7,"i":3,"x":-138,"y":-15},{"c":7,"i":4,"x":-117,"y":-10},{"c":7,"i":5,"x":-103.3,"y":-6},{"c":7,"i":6,"x":-103.6,"y":-3},{"c":7,"i":7,"x":-107.2,"y":0},{"c":7,"i":8,"x":-105.5,"y":4},{"c":7,"i":9,"x":-101.5,"y":8},{"c":7,"i":10,"x":-96.9,"y":12},{"c":7,"i":11,"x":-92.7,"y":16},{"c":7,"i":12,"x":-90.2,"y":22},{"c":7,"i":13,"x":-89.6,"y":30},
{"c":8,"i":0,"x":-199.3,"y":-30},{"c":8,"i":1,"x":-180.7,"y":-25},{"c":8,"i":2,"x":-158.5,"y":-20},{"c":8,"i":3,"x":-136.3,"y":-15},{"c":8,"i":4,"x":-116,"y":-10},{"c":8,"i":5,"x":-102.7,"y":-6},{"c":8,"i":6,"x":-102.4,"y":-3},{"c":8,"i":7,"x":-105.8,"y":0},{"c":8,"i":8,"x":-104,"y":4},{"c":8,"i":9,"x":-100,"y":8},{"c":8,"i":10,"x":-95.6,"y":12},{"c":8,"i":11,"x":-91.8,"y":16},{"c":8,"i":12,"x":-89.6,"y":22},{"c":8,"i":13,"x":-89.2,"y":30},
{"c":9,"i":0,"x":-197.1,"y":-30},{"c":9,"i":1,"x":-178.4,"y":-25},{"c":9,"i":2,"x":-156.2,"y":-20},{"c":9,"i":3,"x":-134.6,"y":-15},{"c":9,"i":4,"x":-115,"y":-10},{"c":9,"i":5,"x":-102,"y":-6},{"c":9,"i":6,"x":-101.2,"y":-3},{"c":9,"i":7,"x":-104.4,"y":0},{"c":9,"i":8,"x":-102.5,"y":4},{"c":9,"i":9,"x":-98.5,"y":8},{"c":9,"i":10,"x":-94.3,"y":12},{"c":9,"i":11,"x":-90.9,"y":16},{"c":9,"i":12,"x":-89.1,"y":22},{"c":9,"i":13,"x":-88.9,"y":30},
{"c":10,"i":0,"x":-194.9,"y":-30},{"c":10,"i":1,"x":-176.1,"y":-25},{"c":10,"i":2,"x":-153.9,"y":-20},{"c":10,"i":3,"x":-132.9,"y":-15},{"c":10,"i":4,"x":-114,"y":-10},{"c":10,"i":5,"x":-101.3,"y":-6},{"c":10,"i":6,"x":-100,"y":-3},{"c":10,"i":7,"x":-103,"y":0},{"c":10,"i":8,"x":-101,"y":4},{"c":10,"i":9,"x":-97,"y":8},{"c":10,"i":10,"x":-93,"y":12},{"c":10,"i":11,"x":-90,"y":16},{"c":10,"i":12,"x":-88.5,"y":22},{"c":10,"i":13,"x":-88.5,"y":30},
{"c":11,"i":0,"x":-192.7,"y":-30},{"c":11,"i":1,"x":-173.8,"y":-25},{"c":11,"i":2,"x":-151.6,"y":-20},{"c":11,"i":3,"x":-131.2,"y":-15},{"c":11,"i":4,"x":-113,"y":-10},{"c":11,"i":5,"x":-100.7,"y":-6},{"c":11,"i":6,"x":-97,"y":-3},{"c":11,"i":7,"x":-89,"y":0},{"c":11,"i":8,"x":-87,"y":2.5},{"c":11,"i":9,"x":-90,"y":5},{"c":11,"i":10,"x":-96,"y":8},{"c":11,"i":11,"x":-100,"y":11},{"c":11,"i":12,"x":-98,"y":15},{"c":11,"i":13,"x":-94,"y":22},{"c":11,"i":14,"x":-92,"y":30},
{"c":12,"i":0,"x":-190.5,"y":-30},{"c":12,"i":1,"x":-171.5,"y":-25},{"c":12,"i":2,"x":-149.3,"y":-20},{"c":12,"i":3,"x":-129.5,"y":-15},{"c":12,"i":4,"x":-112,"y":-10},{"c":12,"i":5,"x":-100,"y":-6},{"c":12,"i":6,"x":-95.7,"y":-3},{"c":12,"i":7,"x":-87,"y":0},{"c":12,"i":8,"x":-85.1,"y":2.5},{"c":12,"i":9,"x":-88.3,"y":5},{"c":12,"i":10,"x":-94.8,"y":8},{"c":12,"i":11,"x":-99.1,"y":11},{"c":12,"i":12,"x":-97.3,"y":15},{"c":12,"i":13,"x":-93.5,"y":22},{"c":12,"i":14,"x":-91.7,"y":30},
{"c":13,"i":0,"x":-188.3,"y":-30},{"c":13,"i":1,"x":-169.2,"y":-25},{"c":13,"i":2,"x":-146.9,"y":-20},{"c":13,"i":3,"x":-127.8,"y":-15},{"c":13,"i":4,"x":-111,"y":-10},{"c":13,"i":5,"x":-99.3,"y":-6},{"c":13,"i":6,"x":-94.4,"y":-3},{"c":13,"i":7,"x":-85,"y":0},{"c":13,"i":8,"x":-83.2,"y":2.5},{"c":13,"i":9,"x":-86.6,"y":5},{"c":13,"i":10,"x":-93.5,"y":8},{"c":13,"i":11,"x":-98.2,"y":11},{"c":13,"i":12,"x":-96.6,"y":15},{"c":13,"i":13,"x":-93.1,"y":22},{"c":13,"i":14,"x":-91.4,"y":30},
{"c":14,"i":0,"x":-186.1,"y":-30},{"c":14,"i":1,"x":-166.9,"y":-25},{"c":14,"i":2,"x":-144.6,"y":-20},{"c":14,"i":3,"x":-126.1,"y":-15},{"c":14,"i":4,"x":-110,"y":-10},{"c":14,"i":5,"x":-98.7,"y":-6},{"c":14,"i":6,"x":-93.1,"y":-3},{"c":14,"i":7,"x":-83,"y":0},{"c":14,"i":8,"x":-81.2,"y":2.5},{"c":14,"i":9,"x":-84.9,"y":5},{"c":14,"i":10,"x":-92.3,"y":8},{"c":14,"i":11,"x":-97.2,"y":11},{"c":14,"i":12,"x":-95.9,"y":15},{"c":14,"i":13,"x":-92.6,"y":22},{"c":14,"i":14,"x":-91.1,"y":30},
{"c":15,"i":0,"x":-183.9,"y":-30},{"c":15,"i":1,"x":-164.6,"y":-25},{"c":15,"i":2,"x":-142.3,"y":-20},{"c":15,"i":3,"x":-124.4,"y":-15},{"c":15,"i":4,"x":-109,"y":-10},{"c":15,"i":5,"x":-98,"y":-6},{"c":15,"i":6,"x":-91.8,"y":-3},{"c":15,"i":7,"x":-81,"y":0},{"c":15,"i":8,"x":-79.3,"y":2.5},{"c":15,"i":9,"x":-83.2,"y":5},{"c":15,"i":10,"x":-91.1,"y":8},{"c":15,"i":11,"x":-96.3,"y":11},{"c":15,"i":12,"x":-95.2,"y":15},{"c":15,"i":13,"x":-92.2,"y":22},{"c":15,"i":14,"x":-90.8,"y":30},
{"c":16,"i":0,"x":-181.7,"y":-30},{"c":16,"i":1,"x":-162.3,"y":-25},{"c":16,"i":2,"x":-140,"y":-20},{"c":16,"i":3,"x":-122.7,"y":-15},{"c":16,"i":4,"x":-108,"y":-10},{"c":16,"i":5,"x":-97.3,"y":-6},{"c":16,"i":6,"x":-90.5,"y":-3},{"c":16,"i":7,"x":-79,"y":0},{"c":16,"i":8,"x":-77.4,"y":2.5},{"c":16,"i":9,"x":-81.5,"y":5},{"c":16,"i":10,"x":-89.8,"y":8},{"c":16,"i":11,"x":-95.4,"y":11},{"c":16,"i":12,"x":-94.5,"y":15},{"c":16,"i":13,"x":-91.7,"y":22},{"c":16,"i":14,"x":-90.5,"y":30},
{"c":17,"i":0,"x":-179.5,"y":-30},{"c":17,"i":1,"x":-160,"y":-25},{"c":17,"i":2,"x":-137.7,"y":-20},{"c":17,"i":3,"x":-121,"y":-15},{"c":17,"i":4,"x":-107,"y":-10},{"c":17,"i":5,"x":-96.7,"y":-6},{"c":17,"i":6,"x":-89.2,"y":-3},{"c":17,"i":7,"x":-77,"y":0},{"c":17,"i":8,"x":-75.5,"y":2.5},{"c":17,"i":9,"x":-79.8,"y":5},{"c":17,"i":10,"x":-88.6,"y":8},{"c":17,"i":11,"x":-94.5,"y":11},{"c":17,"i":12,"x":-93.8,"y":15},{"c":17,"i":13,"x":-91.2,"y":22},{"c":17,"i":14,"x":-90.2,"y":30},
{"c":18,"i":0,"x":-177.3,"y":-30},{"c":18,"i":1,"x":-157.8,"y":-25},{"c":18,"i":2,"x":-135.4,"y":-20},{"c":18,"i":3,"x":-119.3,"y":-15},{"c":18,"i":4,"x":-106,"y":-10},{"c":18,"i":5,"x":-96,"y":-6},{"c":18,"i":6,"x":-87.8,"y":-3},{"c":18,"i":7,"x":-75,"y":0},{"c":18,"i":8,"x":-73.5,"y":2.5},{"c":18,"i":9,"x":-78.2,"y":5},{"c":18,"i":10,"x":-87.4,"y":8},{"c":18,"i":11,"x":-93.5,"y":11},{"c":18,"i":12,"x":-93.2,"y":15},{"c":18,"i":13,"x":-90.8,"y":22},{"c":18,"i":14,"x":-89.8,"y":30},
{"c":19,"i":0,"x":-175,"y":-30},{"c":19,"i":1,"x":-155.5,"y":-25},{"c":19,"i":2,"x":-133.1,"y":-20},{"c":19,"i":3,"x":-117.5,"y":-15},{"c":19,"i":4,"x":-105,"y":-10},{"c":19,"i":5,"x":-95.3,"y":-6},{"c":19,"i":6,"x":-86.5,"y":-3},{"c":19,"i":7,"x":-73,"y":0},{"c":19,"i":8,"x":-71.6,"y":2.5},{"c":19,"i":9,"x":-76.5,"y":5},{"c":19,"i":10,"x":-86.2,"y":8},{"c":19,"i":11,"x":-92.6,"y":11},{"c":19,"i":12,"x":-92.5,"y":15},{"c":19,"i":13,"x":-90.3,"y":22},{"c":19,"i":14,"x":-89.5,"y":30},
{"c":20,"i":0,"x":-172.8,"y":-30},{"c":20,"i":1,"x":-153.2,"y":-25},{"c":20,"i":2,"x":-130.8,"y":-20},{"c":20,"i":3,"x":-115.8,"y":-15},{"c":20,"i":4,"x":-104,"y":-10},{"c":20,"i":5,"x":-94.7,"y":-6},{"c":20,"i":6,"x":-85.2,"y":-3},{"c":20,"i":7,"x":-71,"y":0},{"c":20,"i":8,"x":-69.7,"y":2.5},{"c":20,"i":9,"x":-74.8,"y":5},{"c":20,"i":10,"x":-84.9,"y":8},{"c":20,"i":11,"x":-91.7,"y":11},{"c":20,"i":12,"x":-91.8,"y":15},{"c":20,"i":13,"x":-89.8,"y":22},{"c":20,"i":14,"x":-89.2,"y":30},
{"c":21,"i":0,"x":-170.6,"y":-30},{"c":21,"i":1,"x":-150.9,"y":-25},{"c":21,"i":2,"x":-128.4,"y":-20},{"c":21,"i":3,"x":-114.1,"y":-15},{"c":21,"i":4,"x":-103,"y":-10},{"c":21,"i":5,"x":-94,"y":-6},{"c":21,"i":6,"x":-83.9,"y":-3},{"c":21,"i":7,"x":-69,"y":0},{"c":21,"i":8,"x":-67.8,"y":2.5},{"c":21,"i":9,"x":-73.1,"y":5},{"c":21,"i":10,"x":-83.7,"y":8},{"c":21,"i":11,"x":-90.8,"y":11},{"c":21,"i":12,"x":-91.1,"y":15},{"c":21,"i":13,"x":-89.4,"y":22},{"c":21,"i":14,"x":-88.9,"y":30},
{"c":22,"i":0,"x":-168.4,"y":-30},{"c":22,"i":1,"x":-148.6,"y":-25},{"c":22,"i":2,"x":-126.1,"y":-20},{"c":22,"i":3,"x":-112.4,"y":-15},{"c":22,"i":4,"x":-102,"y":-10},{"c":22,"i":5,"x":-93.3,"y":-6},{"c":22,"i":6,"x":-82.6,"y":-3},{"c":22,"i":7,"x":-67,"y":0},{"c":22,"i":8,"x":-65.8,"y":2.5},{"c":22,"i":9,"x":-71.4,"y":5},{"c":22,"i":10,"x":-82.5,"y":8},{"c":22,"i":11,"x":-89.8,"y":11},{"c":22,"i":12,"x":-90.4,"y":15},{"c":22,"i":13,"x":-88.9,"y":22},{"c":22,"i":14,"x":-88.6,"y":30},
{"c":23,"i":0,"x":-166.2,"y":-30},{"c":23,"i":1,"x":-146.3,"y":-25},{"c":23,"i":2,"x":-123.8,"y":-20},{"c":23,"i":3,"x":-110.7,"y":-15},{"c":23,"i":4,"x":-101,"y":-10},{"c":23,"i":5,"x":-92.7,"y":-6},{"c":23,"i":6,"x":-81.3,"y":-3},{"c":23,"i":7,"x":-65,"y":0},{"c":23,"i":8,"x":-63.9,"y":2.5},{"c":23,"i":9,"x":-69.7,"y":5},{"c":23,"i":10,"x":-81.2,"y":8},{"c":23,"i":11,"x":-88.9,"y":11},{"c":23,"i":12,"x":-89.7,"y":15},{"c":23,"i":13,"x":-88.5,"y":22},{"c":23,"i":14,"x":-88.3,"y":30},
{"c":24,"i":0,"x":-164,"y":-30},{"c":24,"i":1,"x":-144,"y":-25},{"c":24,"i":2,"x":-121.5,"y":-20},{"c":24,"i":3,"x":-109,"y":-15},{"c":24,"i":4,"x":-100,"y":-10},{"c":24,"i":5,"x":-92,"y":-6},{"c":24,"i":6,"x":-80,"y":-3},{"c":24,"i":7,"x":-63,"y":0},{"c":24,"i":8,"x":-62,"y":2.5},{"c":24,"i":9,"x":-68,"y":5},{"c":24,"i":10,"x":-80,"y":8},{"c":24,"i":11,"x":-88,"y":11},{"c":24,"i":12,"x":-89,"y":15},{"c":24,"i":13,"x":-88,"y":22},{"c":24,"i":14,"x":-88,"y":30}
],
"leg":[{"lab":"Disk margin region","x":-400,"y":0},{"lab":"Exclusion region","x":-400,"y":0},{"lab":"Open loops at input","x":-400,"y":0},{"lab":"Disk gain Margin","x":-400,"y":0},{"lab":"Disk phase Margin","x":-400,"y":0}]
},
"hconcat":[
{
"width":449,"height":343,
"title":{"text":"(a) Nominal flight point","orient":"bottom","anchor":"middle","dx":-13,"offset":32,"font":"Liberation Serif","fontSize":21.5,"fontWeight":"bold","color":"#000000"},
"resolve":{"axis":{"x":"independent","y":"independent"}},
"layer":[
{"data":{"name":"grid"},"mark":{"type":"line","clip":true,"interpolate":"catmull-rom","stroke":"#555555","strokeWidth":0.7,"strokeDash":[1,2.2]},
 "encoding":{"x":{"field":"x","type":"quantitative","scale":{"domain":[-270,-45],"nice":false,"zero":false},"axis":{"orient":"bottom","values":[-270,-225,-180,-135,-90,-45],"labelExpr":"'' + datum.value","title":"Open-Loop Phase (deg)"}},
  "y":{"field":"y","type":"quantitative","scale":{"domain":[-30,30],"nice":false,"zero":false},"axis":{"orient":"left","values":[-30,-20,-10,0,10,20,30],"labelExpr":"'' + datum.value","title":"Open-Loop Gain (dB)"}},
  "detail":{"field":"g","type":"nominal"},"order":{"field":"i","type":"quantitative"}}},
{"data":{"name":"glab"},"mark":{"type":"text","align":"left","baseline":"middle","fontSize":11,"font":"Liberation Sans","color":"#000000","clip":true},
 "encoding":{"x":{"field":"x","type":"quantitative","scale":{"domain":[-270,-45]},"axis":null},"y":{"field":"y","type":"quantitative","scale":{"domain":[-30,30]},"axis":null},"text":{"field":"t"}}},
{"data":{"name":"dma"},"mark":{"type":"area","clip":true,"fill":"#f7ab55","fillOpacity":0.5,"strokeWidth":0},
 "encoding":{"x":{"field":"x","type":"quantitative","scale":{"domain":[-270,-45]},"axis":null},"y":{"field":"y","type":"quantitative","scale":{"domain":[-30,30]},"axis":null},"y2":{"field":"y2"}}},
{"data":{"name":"exr"},"mark":{"type":"area","clip":true,"fill":"#f391b7","fillOpacity":0.6,"strokeWidth":0},
 "encoding":{"x":{"field":"x","type":"quantitative","scale":{"domain":[-270,-45]},"axis":null},"y":{"field":"y","type":"quantitative","scale":{"domain":[-30,30]},"axis":null},"y2":{"field":"y2"}}},
{"data":{"values":[{"x":-180,"y":0}]},"mark":{"type":"point","shape":"M-1,0H1M0,-1V1","size":64,"stroke":"#e8202a","strokeWidth":1,"filled":false,"opacity":1},
 "encoding":{"x":{"field":"x","type":"quantitative","scale":{"domain":[-270,-45]},"axis":null},"y":{"field":"y","type":"quantitative","scale":{"domain":[-30,30]},"axis":null}}},
{"data":{"name":"bla"},"mark":{"type":"line","clip":true,"interpolate":"catmull-rom","stroke":"#0000ff","strokeWidth":0.75},
 "encoding":{"x":{"field":"x","type":"quantitative","scale":{"domain":[-270,-45]},"axis":null},"y":{"field":"y","type":"quantitative","scale":{"domain":[-30,30]},"axis":null},"detail":{"field":"c","type":"nominal"},"order":{"field":"i","type":"quantitative"}}},
{"data":{"values":[{"y":22.3}]},"mark":{"type":"rule","stroke":"#3b9b3b","strokeWidth":2},
 "encoding":{"y":{"field":"y","type":"quantitative","scale":{"domain":[-30,30]},"axis":{"orient":"right","values":[-30,-20,-10,0,10,20,30],"labels":false,"title":null}}}},
{"data":{"values":[{"x":-98.8}]},"mark":{"type":"rule","stroke":"#9b3b9f","strokeWidth":2},
 "encoding":{"x":{"field":"x","type":"quantitative","scale":{"domain":[-270,-45]},"axis":{"orient":"top","values":[-270,-225,-180,-135,-90,-45],"labels":false,"title":null}}}},
{"data":{"values":[{"x":-253.5,"y":22.3,"t":"DGM = 22.3 dB"}]},"mark":{"type":"text","align":"left","baseline":"bottom","dy":-1,"fontSize":11,"font":"Liberation Sans","color":"#3b9b3b"},
 "encoding":{"x":{"field":"x","type":"quantitative","scale":{"domain":[-270,-45]},"axis":null},"y":{"field":"y","type":"quantitative","scale":{"domain":[-30,30]},"axis":null},"text":{"field":"t"}}},
{"data":{"values":[{"x":-80.1,"y":-24.2,"t":"DPM = 81.2°"}]},"mark":{"type":"text","align":"left","baseline":"middle","fontSize":11,"font":"Liberation Sans","color":"#9b3b9f"},
 "encoding":{"x":{"field":"x","type":"quantitative","scale":{"domain":[-270,-45]},"axis":null},"y":{"field":"y","type":"quantitative","scale":{"domain":[-30,30]},"axis":null},"text":{"field":"t"}}},
{"data":{"name":"leg"},"mark":{"type":"point","clip":true,"filled":false,"strokeWidth":1.2,"size":64},
 "encoding":{"x":{"field":"x","type":"quantitative","scale":{"domain":[-270,-45]},"axis":null},"y":{"field":"y","type":"quantitative","scale":{"domain":[-30,30]},"axis":null},
  "color":{"field":"lab","type":"nominal","scale":{"domain":["Disk margin region","Exclusion region","Open loops at input","Disk gain Margin","Disk phase Margin"],"range":["#fbd5aa","#f7b0b8","#2a2ad8","#3b9b3b","#9b3b9f"]},"legend":{"legendX":303,"legendY":8}},
  "shape":{"field":"lab","type":"nominal","scale":{"domain":["Disk margin region","Exclusion region","Open loops at input","Disk gain Margin","Disk phase Margin"],"range":["M-4,-1H4M-4,-0.75H4M-4,-0.5H4M-4,-0.25H4M-4,0H4M-4,0.25H4M-4,0.5H4M-4,0.75H4M-4,1H4","M-4,-1H4M-4,-0.75H4M-4,-0.5H4M-4,-0.25H4M-4,0H4M-4,0.25H4M-4,0.5H4M-4,0.75H4M-4,1H4","M-4,0H4","M-4,-0.12H4M-4,0.12H4","M-4,-0.12H4M-4,0.12H4"]},"legend":{"legendX":303,"legendY":8}}}}
]
},
{
"width":450,"height":343,
"title":{"text":"(b) Full grid","orient":"bottom","anchor":"middle","dx":-7,"offset":32,"font":"Liberation Serif","fontSize":21.5,"fontWeight":"bold","color":"#000000"},
"resolve":{"axis":{"x":"independent","y":"independent"}},
"layer":[
{"data":{"name":"grid"},"mark":{"type":"line","clip":true,"interpolate":"catmull-rom","stroke":"#555555","strokeWidth":0.7,"strokeDash":[1,2.2]},
 "encoding":{"x":{"field":"x","type":"quantitative","scale":{"domain":[-270,-45],"nice":false,"zero":false},"axis":{"orient":"bottom","values":[-270,-225,-180,-135,-90,-45],"labelExpr":"'' + datum.value","title":"Open-Loop Phase (deg)"}},
  "y":{"field":"y","type":"quantitative","scale":{"domain":[-30,30],"nice":false,"zero":false},"axis":{"orient":"left","values":[-30,-20,-10,0,10,20,30],"labelExpr":"'' + datum.value","title":"Open-Loop Gain (dB)"}},
  "detail":{"field":"g","type":"nominal"},"order":{"field":"i","type":"quantitative"}}},
{"data":{"name":"glab"},"mark":{"type":"text","align":"left","baseline":"middle","fontSize":11,"font":"Liberation Sans","color":"#000000","clip":true},
 "encoding":{"x":{"field":"x","type":"quantitative","scale":{"domain":[-270,-45]},"axis":null},"y":{"field":"y","type":"quantitative","scale":{"domain":[-30,30]},"axis":null},"text":{"field":"t"}}},
{"data":{"name":"dmb"},"mark":{"type":"area","clip":true,"fill":"#f7ab55","fillOpacity":0.5,"strokeWidth":0},
 "encoding":{"x":{"field":"x","type":"quantitative","scale":{"domain":[-270,-45]},"axis":null},"y":{"field":"y","type":"quantitative","scale":{"domain":[-30,30]},"axis":null},"y2":{"field":"y2"}}},
{"data":{"name":"exr"},"mark":{"type":"area","clip":true,"fill":"#f391b7","fillOpacity":0.6,"strokeWidth":0},
 "encoding":{"x":{"field":"x","type":"quantitative","scale":{"domain":[-270,-45]},"axis":null},"y":{"field":"y","type":"quantitative","scale":{"domain":[-30,30]},"axis":null},"y2":{"field":"y2"}}},
{"data":{"values":[{"x":-180,"y":0}]},"mark":{"type":"point","shape":"M-1,0H1M0,-1V1","size":64,"stroke":"#e8202a","strokeWidth":1,"filled":false,"opacity":1},
 "encoding":{"x":{"field":"x","type":"quantitative","scale":{"domain":[-270,-45]},"axis":null},"y":{"field":"y","type":"quantitative","scale":{"domain":[-30,30]},"axis":null}}},
{"data":{"name":"blb"},"mark":{"type":"line","clip":true,"interpolate":"catmull-rom","stroke":"#0000ff","strokeWidth":1.7},
 "encoding":{"x":{"field":"x","type":"quantitative","scale":{"domain":[-270,-45]},"axis":null},"y":{"field":"y","type":"quantitative","scale":{"domain":[-30,30]},"axis":null},"detail":{"field":"c","type":"nominal"},"order":{"field":"i","type":"quantitative"}}},
{"data":{"values":[{"y":13.2}]},"mark":{"type":"rule","stroke":"#3b9b3b","strokeWidth":2},
 "encoding":{"y":{"field":"y","type":"quantitative","scale":{"domain":[-30,30]},"axis":{"orient":"right","values":[-30,-20,-10,0,10,20,30],"labels":false,"title":null}}}},
{"data":{"values":[{"x":-114.6}]},"mark":{"type":"rule","stroke":"#9b3b9f","strokeWidth":2},
 "encoding":{"x":{"field":"x","type":"quantitative","scale":{"domain":[-270,-45]},"axis":{"orient":"top","values":[-270,-225,-180,-135,-90,-45],"labels":false,"title":null}}}},
{"data":{"values":[{"x":-252.5,"y":13.2,"t":"DGM = 13.2 dB"}]},"mark":{"type":"text","align":"left","baseline":"bottom","dy":-1,"fontSize":11,"font":"Liberation Sans","color":"#3b9b3b"},
 "encoding":{"x":{"field":"x","type":"quantitative","scale":{"domain":[-270,-45]},"axis":null},"y":{"field":"y","type":"quantitative","scale":{"domain":[-30,30]},"axis":null},"text":{"field":"t"}}},
{"data":{"values":[{"x":-95.5,"y":-24.9,"t":"DPM = 65.4°"}]},"mark":{"type":"text","align":"left","baseline":"middle","fontSize":11,"font":"Liberation Sans","color":"#9b3b9f"},
 "encoding":{"x":{"field":"x","type":"quantitative","scale":{"domain":[-270,-45]},"axis":null},"y":{"field":"y","type":"quantitative","scale":{"domain":[-30,30]},"axis":null},"text":{"field":"t"}}},
{"data":{"name":"leg"},"mark":{"type":"point","clip":true,"filled":false,"strokeWidth":1.2,"size":64},
 "encoding":{"x":{"field":"x","type":"quantitative","scale":{"domain":[-270,-45]},"axis":null},"y":{"field":"y","type":"quantitative","scale":{"domain":[-30,30]},"axis":null},
  "color":{"field":"lab","type":"nominal","scale":{"domain":["Disk margin region","Exclusion region","Open loops at input","Disk gain Margin","Disk phase Margin"],"range":["#fbd5aa","#f7b0b8","#2a2ad8","#3b9b3b","#9b3b9f"]},"legend":{"legendX":304,"legendY":8}},
  "shape":{"field":"lab","type":"nominal","scale":{"domain":["Disk margin region","Exclusion region","Open loops at input","Disk gain Margin","Disk phase Margin"],"range":["M-4,-1H4M-4,-0.75H4M-4,-0.5H4M-4,-0.25H4M-4,0H4M-4,0.25H4M-4,0.5H4M-4,0.75H4M-4,1H4","M-4,-1H4M-4,-0.75H4M-4,-0.5H4M-4,-0.25H4M-4,0H4M-4,0.25H4M-4,0.5H4M-4,0.75H4M-4,1H4","M-4,0H4","M-4,-0.12H4M-4,0.12H4","M-4,-0.12H4M-4,0.12H4"]},"legend":{"legendX":304,"legendY":8}}}}
]
}
],
"resolve":{"scale":{"x":"independent","y":"independent","color":"independent","shape":"independent"},"legend":{"color":"independent","shape":"independent"}}
}
